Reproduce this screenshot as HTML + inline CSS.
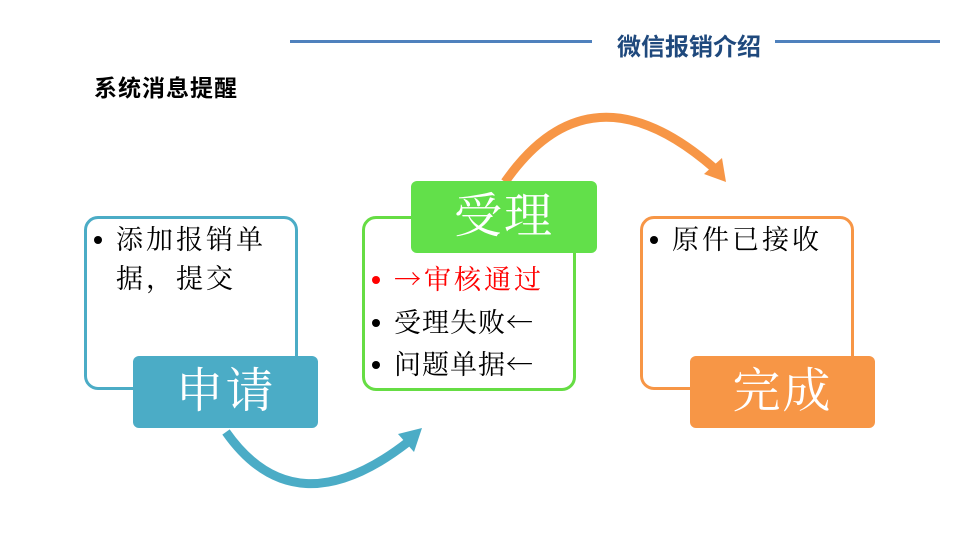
<!DOCTYPE html>
<html><head><meta charset="utf-8"><style>
body{margin:0;width:960px;height:540px;background:#fff;position:relative;overflow:hidden;font-family:"Liberation Serif","Noto Serif CJK SC",serif}
.a{position:absolute;box-sizing:border-box}
.box{border:3px solid;border-radius:14px;background:#fff}
.lab{border-radius:6px;color:#fff;font-size:48px;text-align:center;line-height:72px;letter-spacing:2px}
.t{font-size:27px;line-height:39px;white-space:nowrap;letter-spacing:3px}
.dot{display:inline-block;width:8px;height:8px;border-radius:50%;background:#000;vertical-align:middle;margin-right:14px;position:relative;top:-3px}
.ar{font-family:"Noto Serif CJK SC",serif}
</style></head><body>
<div class="a" style="left:290px;top:40px;width:302px;height:3px;background:#4f81bd"></div>
<div class="a" style="left:775px;top:40px;width:165px;height:3px;background:#4f81bd"></div>
<div class="a" style="left:617px;top:27px;font:bold 24px 'Liberation Sans','Noto Sans CJK SC',sans-serif;color:#1f497d">微信报销介绍</div>
<div class="a" style="left:94px;top:69px;font:bold 23px 'Liberation Sans','Noto Sans CJK SC',sans-serif;color:#000;letter-spacing:1px">系统消息提醒</div>

<svg class="a" style="left:0;top:0" width="960" height="540">
<path d="M226 432 Q295 530 408 442" fill="none" stroke="#4bacc6" stroke-width="9"/>
<polygon points="422,428 398,434 414,452" fill="#4bacc6"/>
<path d="M505 182 Q590 60 714 168" fill="none" stroke="#f79646" stroke-width="9"/>
<polygon points="726,182 704,174 722,158" fill="#f79646"/>
</svg>

<div class="a box" style="left:84px;top:216px;width:214px;height:174px;border-color:#4bacc6"></div>
<div class="a t" style="left:94px;top:221px"><span class="dot"></span>添加报销单<br><span style="padding-left:22px">据，提交</span></div>
<div class="a lab" style="left:133px;top:356px;width:185px;height:72px;background:#4bacc6">申请</div>

<div class="a box" style="left:362px;top:216px;width:214px;height:175px;border-color:#66dd44"></div>
<div class="a t" style="left:372px;top:258px;color:#f00;letter-spacing:3px"><span class="dot" style="background:#f00"></span><span class="ar">→</span>审核通过</div>
<div class="a t" style="left:372px;top:301px;letter-spacing:1px"><span class="dot"></span>受理失败<span class="ar">←</span></div>
<div class="a t" style="left:372px;top:343px;letter-spacing:1px"><span class="dot"></span>问题单据<span class="ar">←</span></div>
<div class="a lab" style="left:411px;top:181px;width:186px;height:72px;background:#62e04a">受理</div>

<div class="a box" style="left:640px;top:216px;width:214px;height:174px;border-color:#f79646"></div>
<div class="a t" style="left:650px;top:221px"><span class="dot"></span>原件已接收</div>
<div class="a lab" style="left:690px;top:356px;width:185px;height:72px;background:#f79646">完成</div>
</body></html>
